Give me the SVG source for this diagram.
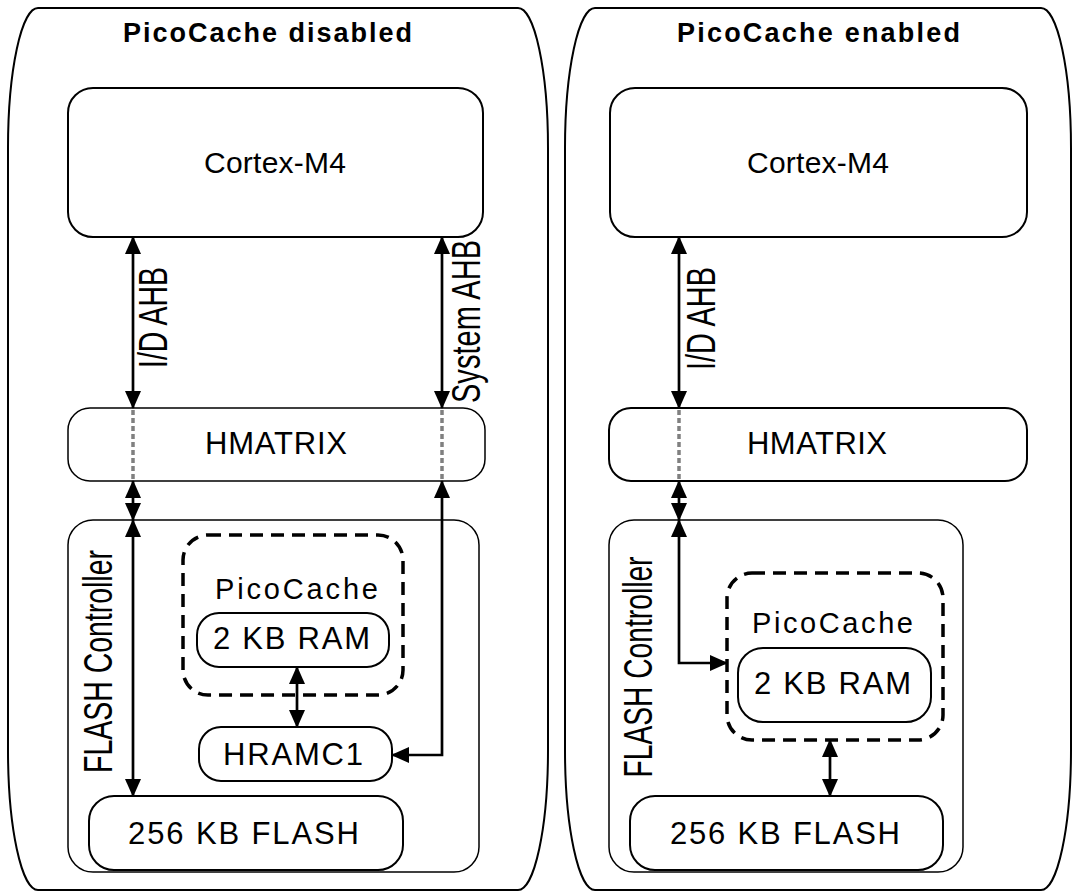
<svg xmlns="http://www.w3.org/2000/svg" width="1072" height="892" viewBox="0 0 1072 892">
<defs>
<style>
.panel{fill:#fff;stroke:#000;stroke-width:2}
.box{fill:#fff;stroke:#000;stroke-width:2}
.thin{fill:#fff;stroke:#000;stroke-width:1.5}
.dash{fill:none;stroke:#000;stroke-width:3.5;stroke-dasharray:13 8}
.t{font-family:"Liberation Sans",Arial,sans-serif;font-size:31px;fill:#000;text-anchor:middle}
.pc{font-size:29px}
.cx{font-size:30px}
.title{font-family:"Liberation Sans",Arial,sans-serif;font-size:27px;font-weight:bold;fill:#000;text-anchor:middle}
.rot{font-family:"Liberation Sans",Arial,sans-serif;font-size:40px;fill:#000;text-anchor:middle}
.ln{fill:none;stroke:#000;stroke-width:2.7;marker-start:url(#ah);marker-end:url(#ah)}
.gray{fill:none;stroke:#808080;stroke-width:3.5;stroke-dasharray:5 3}
</style>
<marker id="ah" viewBox="0 0 18 16" refX="17" refY="8" markerWidth="18" markerHeight="16" markerUnits="userSpaceOnUse" orient="auto-start-reverse">
<path d="M0,0 L18,8 L0,16 z" fill="#000"/>
</marker>
</defs>
<rect width="1072" height="892" fill="#fff"/>

<g id="panel-disabled">
<rect class="panel" x="8" y="8" width="540" height="882" rx="30" ry="140"/>
<text class="title" x="267.5" y="42" textLength="289">PicoCache disabled</text>
</g>
<g id="panel-enabled">
<rect class="panel" x="565" y="8" width="506" height="882" rx="30" ry="140"/>
<text class="title" x="818.5" y="42" textLength="283">PicoCache enabled</text>
</g>

<g id="cortex-left">
<rect class="box" x="68" y="88" width="415" height="149" rx="25"/>
<text class="t cx" x="275" y="173" textLength="142">Cortex-M4</text>
</g>
<g id="hmatrix-left">
<rect class="thin" x="68" y="408" width="417" height="73" rx="22"/>
<text class="t" x="276" y="454" textLength="142">HMATRIX</text>
</g>
<g id="flashctrl-left">
<rect class="thin" x="68" y="520" width="411" height="352" rx="25"/>
<text class="rot" transform="translate(112,661.5) rotate(-90)" x="0" y="0" textLength="223" lengthAdjust="spacingAndGlyphs">FLASH Controller</text>
</g>
<g id="picocache-left">
<rect class="dash" x="183" y="535" width="220" height="160" rx="25"/>
<text class="t pc" x="296.5" y="599" textLength="163">PicoCache</text>
</g>
<g id="ram-left">
<rect class="box" x="197" y="613" width="192" height="54" rx="22"/>
<text class="t" x="291.5" y="649" textLength="157">2 KB RAM</text>
</g>
<g id="hramc1-left">
<rect class="box" x="199" y="727" width="193" height="54" rx="22"/>
<text class="t" x="293" y="765" textLength="140">HRAMC1</text>
</g>
<g id="flash-left">
<rect class="box" x="89" y="796" width="314" height="74" rx="25"/>
<text class="t" x="243.5" y="844" textLength="231">256 KB FLASH</text>
</g>

<g id="cortex-right">
<rect class="box" x="610" y="88" width="417" height="149" rx="25"/>
<text class="t cx" x="818" y="173" textLength="142">Cortex-M4</text>
</g>
<g id="hmatrix-right">
<rect class="box" x="609" y="408" width="418" height="73" rx="22"/>
<text class="t" x="817" y="454" textLength="140">HMATRIX</text>
</g>
<g id="flashctrl-right">
<rect class="thin" x="609" y="520" width="354" height="352" rx="25"/>
<text class="rot" transform="translate(652,667) rotate(-90)" x="0" y="0" textLength="221" lengthAdjust="spacingAndGlyphs">FLASH Controller</text>
</g>
<g id="picocache-right">
<rect class="dash" x="727" y="573" width="216" height="167" rx="25"/>
<text class="t pc" x="832.5" y="633" textLength="161">PicoCache</text>
</g>
<g id="ram-right">
<rect class="box" x="738" y="648" width="193" height="74" rx="25"/>
<text class="t" x="832.5" y="694" textLength="157">2 KB RAM</text>
</g>
<g id="flash-right">
<rect class="box" x="630" y="796" width="313" height="74" rx="25"/>
<text class="t" x="785" y="844" textLength="230">256 KB FLASH</text>
</g>

<g id="connectors">
<line class="ln" x1="133" y1="237" x2="133" y2="408"/>
<line class="ln" x1="442" y1="237" x2="442" y2="408"/>
<line class="gray" x1="133" y1="410" x2="133" y2="480"/>
<line class="gray" x1="442" y1="410" x2="442" y2="480"/>
<line class="ln" x1="133" y1="481" x2="133" y2="520"/>
<line class="ln" x1="133" y1="520" x2="133" y2="796"/>
<polyline class="ln" points="442,481 442,755 392,755"/>
<line class="ln" x1="297" y1="667" x2="297" y2="727"/>
<text class="rot" transform="translate(167,317.5) rotate(-90)" x="0" y="0" textLength="101" lengthAdjust="spacingAndGlyphs">I/D AHB</text>
<text class="rot" transform="translate(480,321.5) rotate(-90)" x="0" y="0" textLength="163" lengthAdjust="spacingAndGlyphs">System AHB</text>

<line class="ln" x1="679" y1="237" x2="679" y2="408"/>
<line class="gray" x1="679" y1="410" x2="679" y2="480"/>
<line class="ln" x1="679" y1="481" x2="679" y2="520"/>
<polyline class="ln" points="679,520 679,663 727,663"/>
<line class="ln" x1="830" y1="740" x2="830" y2="796"/>
<text class="rot" transform="translate(715,318.5) rotate(-90)" x="0" y="0" textLength="103" lengthAdjust="spacingAndGlyphs">I/D AHB</text>
</g>
</svg>
